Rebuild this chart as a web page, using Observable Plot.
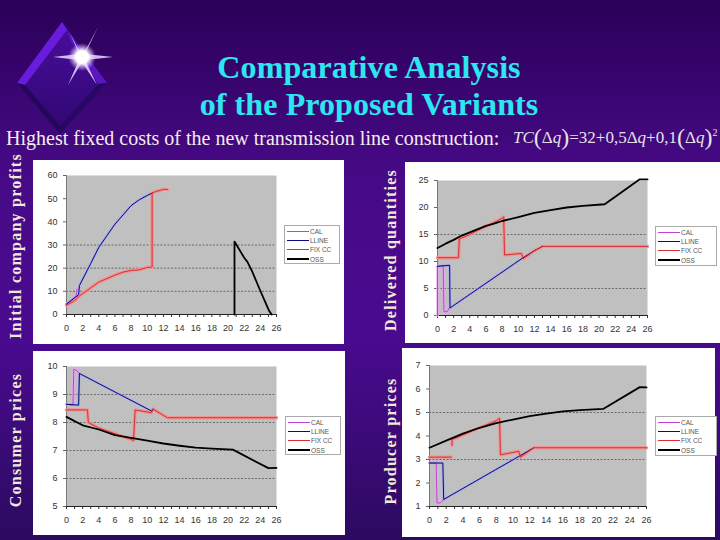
<!DOCTYPE html>
<html><head><meta charset="utf-8">
<script src="https://cdn.jsdelivr.net/npm/d3@7"></script>
<script src="https://cdn.jsdelivr.net/npm/@observablehq/plot@0.6"></script>
<style>
html,body{margin:0;padding:0}
body{width:720px;height:540px;position:relative;overflow:hidden;background:linear-gradient(180deg,#2a0058 0%,#470a86 32%,#4a0a90 62%,#2c0a60 100%);font-family:"Liberation Serif",serif}
.abs{position:absolute}
.title{left:0;width:738px;text-align:center;color:#2ce6f2;font-weight:bold;font-size:32px;line-height:37px;top:49px;letter-spacing:.1px}
.sub{left:6px;top:127px;color:#f4ecec;font-size:20px;white-space:nowrap}
.formula{left:513px;top:128px;color:#e8e0e8;font-size:17px;white-space:nowrap;font-style:italic;letter-spacing:0}
.formula b{font-weight:normal;font-style:normal}
.formula u{text-decoration:none;font-style:normal;font-size:24px;line-height:0;font-weight:normal;vertical-align:-2px}
.ylab{color:#f2ead8;font-size:16px;font-weight:bold;white-space:nowrap;transform:translate(-50%,-50%) rotate(-90deg);letter-spacing:1.25px}
.panel{background:#fff}
.legend{background:#fff;border:1px solid #aaa;font:6.5px "Liberation Sans",sans-serif;color:#555;padding:1px 2px;box-sizing:border-box}
.legend div{display:flex;align-items:center;height:9.2px;white-space:nowrap}
.legend i{display:inline-block;width:22px;height:0;margin-right:1px;border-top:1px solid}
</style></head><body>
<div id="root"></div>
<script>
const xTicks = d3.range(0, 27, 2);
const minorTicks = d3.range(0, 27, 1);
const seriesNames = ["CAL", "LLINE", "FIX CC", "OSS"];
const seriesColors = ["#c040d8", "#0a0a80", "#d83030", "#000000"];

// Initial company profits
const profitsCal = [[0,4.5],[0.7,6.5],[1.2,8],[1.3,11]];
const profitsLine = [[0,4.5],[1.5,8.5],[1.6,12.5],[3,22],[4,29],[5,34],[6,39],[7,43],[8,47],[9,49.5],[10,51.4],[10.6,52.4]];
const profitsFix = [[0,4],[1,6],[1.6,8],[2,9],[3,11.5],[4,14],[5,15.5],[6,17],[7,18.3],[8,19],[9,19.3],[10,20.3],[10.6,20.5],[10.6,52.5],[11,53],[12,54],[12.5,54]];
const profitsOss = [[20.8,0],[20.8,31.5],[22,24.5],[22.4,22.7],[23,18.5],[23.9,11],[25.1,1.5],[25.4,0]];

// Delivered quantities
const quantCal = [[0,0],[0,9.1],[0.7,9.3],[0.8,0.7],[1.2,0.7],[1.5,1.5]];
const quantLine = [[0,9.1],[1.5,9.3],[1.55,1.4],[10.5,10.6],[12,12],[13,12.8]];
const quantFix = [[0,10.7],[2.6,10.7],[2.7,14.2],[4,15],[5,15.8],[6,16.5],[7,17.2],[8,18],[8.2,18.3],[8.3,11.2],[10.4,11.5],[10.6,10.5],[12,12],[13,12.8],[26,12.8]];
const quantOss = [[0,12.5],[1,13.3],[2,14],[3,14.8],[4,15.4],[5,16],[6,16.6],[7,17],[8,17.5],[10,18.2],[12,19],[14,19.5],[16,20],[18,20.3],[20.7,20.6],[25,25.2],[26,25.2]];

// Consumer prices
const consCal = [[0,8.65],[0.8,8.62],[0.9,9.9],[1.3,9.85],[1.6,9.75]];
const consLine = [[0,8.65],[1.5,8.62],[1.6,9.75],[10.6,8.4],[10.7,8.48]];
const consFix = [[0,8.45],[2.6,8.45],[2.7,8],[4,7.8],[6,7.6],[8,7.4],[8.3,7.35],[8.5,8.45],[10.5,8.35],[10.7,8.48],[12.5,8.17],[26,8.17]];
const consOss = [[0,8.2],[1,8.05],[2,7.9],[4,7.75],[6,7.55],[8,7.45],[10,7.35],[12,7.25],[14,7.17],[16,7.1],[18,7.07],[20.6,7.03],[25,6.37],[26,6.38]];

// Producer prices
const prodCal = [[0,2.85],[0.8,2.85],[0.9,1.15],[1.3,1.15],[1.7,1.3]];
const prodLine = [[0,2.85],[1.6,2.85],[1.7,1.3],[10.8,3.15],[12.5,3.5]];
const prodFixA = [[0,3.1],[2.6,3.1]];
const prodFix = [[2.7,3.6],[2.7,3.85],[4,4.05],[6,4.35],[8,4.65],[8.4,4.75],[8.5,3.2],[10,3.3],[10.7,3.35],[10.9,3.1],[12.5,3.5],[26,3.5]];
const prodOss = [[0,3.5],[2,3.8],[4,4.1],[6,4.35],[8,4.55],[10,4.7],[12,4.85],[14,4.95],[16,5.05],[18,5.1],[20.8,5.15],[25.2,6.08],[26,6.07]];

const panels = [
  {label:"Initial company profits", labelX:16, labelY:246, box:[33,160,311,184], plot:[66,175,276,314], yDomain:[0,60], yTicks:[0,10,20,30,40,50,60], grid:[10,20,30], legend:[284,225,56,39], series:[profitsCal,profitsLine,profitsFix,profitsOss]},
  {label:"Delivered quantities", labelX:391, labelY:250, box:[405,162,315,181], plot:[437,180,647,315], yDomain:[0,25], yTicks:[0,5,10,15,20,25], grid:[5,15], legend:[655,226,62,40], series:[quantCal,quantLine,quantFix,quantOss]},
  {label:"Consumer prices", labelX:16, labelY:440, box:[33,351,312,184], plot:[66,366,276,506], yDomain:[5,10], yTicks:[5,6,7,8,9,10], grid:[6,7,8,9], legend:[285,416,56,39], series:[consCal,consLine,consFix,consOss]},
  {label:"Producer prices", labelX:391, labelY:441, box:[402,348,313,189], plot:[429,365,646,506], yDomain:[1,7], yTicks:[1,2,3,4,5,6,7], grid:[3,5], legend:[655,416,62,40], series:[prodCal,prodLine,prodFix,prodOss], extra:prodFixA}
];

const root = document.getElementById("root");
function add(cls, css, html){
  const d = document.createElement("div");
  d.className = "abs " + cls; Object.assign(d.style, css);
  if (html) d.innerHTML = html;
  root.appendChild(d); return d;
}

add("", {left:"0",top:"0"}, `<svg width="130" height="145" viewBox="0 0 130 145">
<defs><linearGradient id="dm" x1="0" y1="0" x2="0" y2="1"><stop offset="0" stop-color="#4a0c9c"/><stop offset="1" stop-color="#2e0870"/></linearGradient>
<radialGradient id="gl"><stop offset="0" stop-color="#fff"/><stop offset=".45" stop-color="#fff"/><stop offset="1" stop-color="#d8b8ff" stop-opacity="0"/></radialGradient></defs>
<polygon points="62,22 107,83 60,134 17,83" fill="url(#dm)"/>
<polygon points="62,22 67,30 25,85 17,83" fill="#6a1cdc"/>
<polygon points="67,30 107,83 98,84 70,40" fill="#5a16c0"/>
<polygon points="17,83 60,134 60,126 25,85" fill="#24065a"/>
<polygon points="107,83 60,134 60,126 98,84" fill="#2a0766"/>
<polygon points="82,57 98,27 85,54 113,57 85,60 97,85 82,62 68,85 79,60 53,57 79,54 70,33" fill="#e2ccff" opacity=".9"/>
<circle cx="82" cy="57" r="14" fill="url(#gl)"/></svg>`);
add("title", {}, "Comparative Analysis<br>of the Proposed Variants");
add("sub", {}, "Highest fixed costs of the new transmission line construction:");
add("formula", {}, 'TC<u>(</u><b>Δ</b>q<u>)</u><b>=32+0,5Δ</b>q<b>+0,1</b><u>(</u><b>Δ</b>q<u>)</u><sup style="font-size:10px;font-style:normal;line-height:0">2</sup>');

for (const p of panels) {
  const [bx,by,bw,bh] = p.box, [x0,y0,x1,y1] = p.plot;
  add("panel", {left:bx+"px",top:by+"px",width:bw+"px",height:bh+"px"});
  add("ylab", {left:p.labelX+"px",top:p.labelY+"px"}, p.label);
  const xy = {x:d=>d[0],y:d=>d[1]};
  const halo = [];
  const core = [];
  p.series.forEach((s,i) => {
    if (i===2) halo.push(Plot.line(s,{...xy,stroke:"#ee9494",strokeWidth:3.4}));
    if (i<2) halo.push(Plot.line(s,{...xy,stroke:i===0?"#e8a8f0":"#a8a8e8",strokeWidth:2.4}));
    core.push(Plot.line(s,{...xy,stroke:seriesColors[i],strokeWidth:i===3?1.8:1}));
  });
  if (p.extra) {
    halo.push(Plot.line(p.extra,{...xy,stroke:"#ee9494",strokeWidth:3.4}));
    core.push(Plot.line(p.extra,{...xy,stroke:seriesColors[2],strokeWidth:1}));
  }
  const chart = Plot.plot({
    width:bw, height:bh,
    marginLeft:x0-bx, marginRight:bx+bw-x1, marginTop:y0-by, marginBottom:by+bh-y1,
    style:{background:"transparent",fontFamily:"Liberation Sans, sans-serif",fontSize:"9px",color:"#333"},
    x:{domain:[0,26],type:"linear",label:null},
    y:{domain:p.yDomain,type:"linear",label:null},
    marks:[
      Plot.frame({fill:"#c0c0c0",stroke:"none"}),
      Plot.ruleY(p.grid,{stroke:"#555",strokeWidth:1,strokeDasharray:"2,1.5",strokeOpacity:.8}),
      Plot.axisX({ticks:minorTicks,tickSize:3,tickFormat:()=>"",stroke:"#333"}),
      Plot.axisX({ticks:xTicks,tickSize:0,tickPadding:10,tickFormat:d=>d,fill:"#333"}),
      Plot.axisY({ticks:p.yTicks,tickSize:3,tickPadding:6,tickFormat:d=>d,fill:"#333",stroke:"#666"}),
      Plot.ruleY([p.yDomain[0]],{stroke:"#222",strokeWidth:1}),
      Plot.ruleX([0],{stroke:"#777",strokeWidth:1}),
      ...halo, ...core
    ]
  });
  chart.style.position="absolute"; chart.style.left=bx+"px"; chart.style.top=by+"px";
  root.appendChild(chart);
  const [lx,ly,lw,lh] = p.legend;
  add("legend",{left:lx+"px",top:ly+"px",width:lw+"px",height:lh+"px"},
    seriesNames.map((n,i)=>`<div><i style="border-color:${seriesColors[i]};${i===3?'border-top-width:2px':''}"></i>${n}</div>`).join(""));
}
</script>
</body></html>
